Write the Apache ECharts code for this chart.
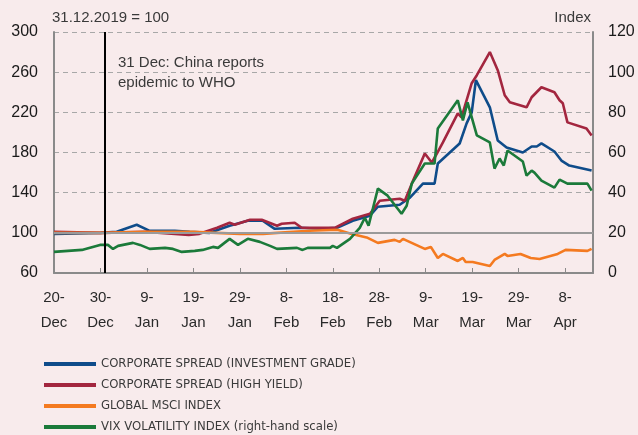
<!DOCTYPE html>
<html>
<head>
<meta charset="utf-8">
<script src="https://cdn.jsdelivr.net/npm/echarts@6/dist/echarts.min.js"></script>
<style>
  html, body { margin: 0; padding: 0; background: #f8ebec; }
  #chart { width: 638px; height: 435px; }
</style>
</head>
<body>
<div id="chart"></div>
<script>
// x values are days since 20 Dec 2019
var tickLabels = ['20-\nDec', '30-\nDec', '9-\nJan', '19-\nJan', '29-\nJan', '8-\nFeb',
  '18-\nFeb', '28-\nFeb', '9-\nMar', '19-\nMar', '29-\nMar', '8-\nApr'];

var igDays = [0, 10, 13.5, 17.8, 20.6, 26, 29.2, 33.5, 37.8, 41.7, 44.9, 47.5, 52.9, 57.2, 60.9, 64.3, 68, 69.7,
  74.4, 76.6, 79.4, 81.9, 82.6, 87.3, 88.8, 89.9, 90.8, 93.8, 95.5, 97.4, 100.9, 102.8, 103.9, 104.9, 107.7,
  109.2, 110.9, 115.7];
var igVals = [99, 100, 101, 108, 102, 102, 101, 100, 107, 112, 112, 104, 105, 104, 105, 112, 117, 126,
  128, 135, 149, 149, 169, 189, 209, 220, 252, 225, 192, 185, 180, 186, 186, 189, 181,
  172, 167, 162];

var hyDays = [0, 10, 20, 29, 31.3, 35.1, 37.8, 38.9, 42.2, 44.7, 48, 49, 51.8, 53.3, 60.4, 64.3, 68, 70.1,
  74.4, 75.5, 77, 79.8, 81.3, 82.4, 83.7, 86.9, 87.7, 89.9, 91, 93.8, 95.5, 97, 98.1, 101.7, 102.8, 104.9,
  107.7, 108.8, 109.5, 110.5, 114.6, 115.7];
var hyVals = [101, 100, 101, 98, 99, 105, 110, 108, 113, 113, 107, 109, 110, 105, 105, 114, 119, 132,
  134, 132, 149, 179, 170, 179, 190, 219, 215, 249, 257, 280, 262, 237, 230, 225, 235, 245,
  240, 232, 229, 210, 204, 197];

var msciDays = [0, 10, 20, 30, 40, 45, 48, 55, 61, 63.9, 67.5, 69.7, 73.3, 74.4, 75.1, 79.8, 81.1, 82.6,
  83.7, 86.9, 88, 88.6, 90.1, 93.8, 94.8, 97, 97.6, 100.4, 102.6, 104.5, 108.4, 110.1, 114.8, 115.7];
var msciVals = [100, 100, 101, 101, 99, 99, 100, 102, 103, 99, 95, 90, 93, 91, 94, 84, 86, 75,
  79, 72, 75, 71, 71, 67, 73, 79, 77, 79, 75, 74, 79, 83, 82, 84];

var vixDays = [0, 6, 9.9, 11.6, 12.7, 13.8, 17, 18.5, 20.6, 23.9, 25.6, 27.5, 30.3, 32, 34.2, 35.3, 37.8, 39.6,
  41.7, 44.3, 46.5, 48, 52.3, 53.5, 54.6, 59.4, 60, 60.9, 63.7, 65.8, 66.9, 67.7, 69.7, 71.8, 74.8, 75.9,
  77, 79.8, 81.9, 82.6, 86.9, 88, 89, 91, 93.8, 94.8, 95.9, 96.8, 97.6, 100.9, 101.7, 102.8, 103.4, 104.9,
  107.7, 108.8, 110.5, 114.8, 115.7];
var vixVals = [10.5, 11.5, 14, 14, 12, 13.5, 15, 14, 12, 12.5, 12, 10.5, 11, 11.5, 13, 12.5, 17, 14,
  17, 15.5, 13.5, 12, 12.5, 11.5, 12.5, 12.5, 13.5, 12.5, 17, 22.5, 27.5, 23.5, 42, 38.5, 29.5, 33.5,
  44.5, 54.5, 54.5, 72, 86, 76, 85, 68.5, 65, 52, 57, 53.5, 61, 55.5, 48.5, 51, 50, 46,
  42.5, 46.5, 44.5, 44.5, 41];

function pairs(xs, ys) {
  return xs.map(function (x, i) { return [x, ys[i]]; });
}

var chart = echarts.init(document.getElementById('chart'));
var font = '"Liberation Sans", Arial, sans-serif';

chart.setOption({
  backgroundColor: '#f8ebec',
  animation: false,
  textStyle: { fontFamily: font },
  grid: { left: 54, right: 45, top: 32, bottom: 162 },
  legend: {
    orient: 'vertical',
    left: 44,
    top: 357,
    padding: 0,
    height: 80,
    itemWidth: 52,
    itemHeight: 4,
    itemGap: 7,
    icon: 'rect',
    textStyle: { fontFamily: '"DejaVu Sans Condensed", sans-serif', fontSize: 13, color: '#3a3a3a', lineHeight: 14 },
    data: ['CORPORATE SPREAD (INVESTMENT GRADE)', 'CORPORATE SPREAD (HIGH YIELD)', 'GLOBAL MSCI INDEX',
      'VIX VOLATILITY INDEX (right-hand scale)']
  },
  graphic: [
    { type: 'text', left: 52, top: 10, style: { text: '31.12.2019 = 100', font: '15px ' + font, fill: '#3a3a3a' } },
    { type: 'text', right: 47, top: 10, style: { text: 'Index', font: '15px ' + font, fill: '#3a3a3a' } },
    { type: 'text', left: 118, top: 53, style: { text: '31 Dec: China reports\nepidemic to WHO', font: '15px ' + font, fill: '#3a3a3a', lineHeight: 20 } }
  ],
  xAxis: {
    type: 'value',
    min: 0,
    max: 116,
    interval: 10,
    splitLine: { show: false },
    axisLine: { lineStyle: { color: '#8a8a8a', width: 2 } },
    axisTick: { inside: true, length: 5, lineStyle: { color: '#8a8a8a' } },
    axisLabel: {
      color: '#2a2a2a', fontSize: 15, lineHeight: 25, margin: 12,
      formatter: function (v) { return v % 10 === 0 ? tickLabels[v / 10] : ''; }
    }
  },
  yAxis: [{
    type: 'value', min: 60, max: 300, interval: 40,
    axisLine: { show: true, lineStyle: { color: '#8a8a8a', width: 2 } },
    axisTick: { show: false },
    axisLabel: { color: '#1a1a1a', fontSize: 16, margin: 16 },
    splitLine: { lineStyle: { color: '#a8a8a8', type: [5, 4], width: 1 } }
  }, {
    type: 'value', min: 0, max: 120, interval: 20,
    axisLine: { show: true, lineStyle: { color: '#8a8a8a', width: 2 } },
    axisTick: { show: false },
    axisLabel: { color: '#1a1a1a', fontSize: 16, margin: 15 },
    splitLine: { show: false }
  }],
  series: [{
    name: 'CORPORATE SPREAD (INVESTMENT GRADE)',
    type: 'line', showSymbol: false, color: '#0f4c8a',
    lineStyle: { width: 2.6 },
    data: pairs(igDays, igVals),
    markLine: {
      silent: true, symbol: 'none', label: { show: false },
      data: [
        { yAxis: 100, lineStyle: { color: '#9a9a9a', type: 'solid', width: 2 } },
        { xAxis: 11, lineStyle: { color: '#000', type: 'solid', width: 2 } }
      ]
    }
  }, {
    name: 'CORPORATE SPREAD (HIGH YIELD)',
    type: 'line', showSymbol: false, color: '#a3263f',
    lineStyle: { width: 2.6 },
    data: pairs(hyDays, hyVals)
  }, {
    name: 'GLOBAL MSCI INDEX',
    type: 'line', showSymbol: false, color: '#f47a20',
    lineStyle: { width: 2.6 },
    data: pairs(msciDays, msciVals)
  }, {
    name: 'VIX VOLATILITY INDEX (right-hand scale)',
    type: 'line', showSymbol: false, color: '#1b7a3a', yAxisIndex: 1,
    lineStyle: { width: 2.6 },
    data: pairs(vixDays, vixVals)
  }]
});
</script>
</body>
</html>
